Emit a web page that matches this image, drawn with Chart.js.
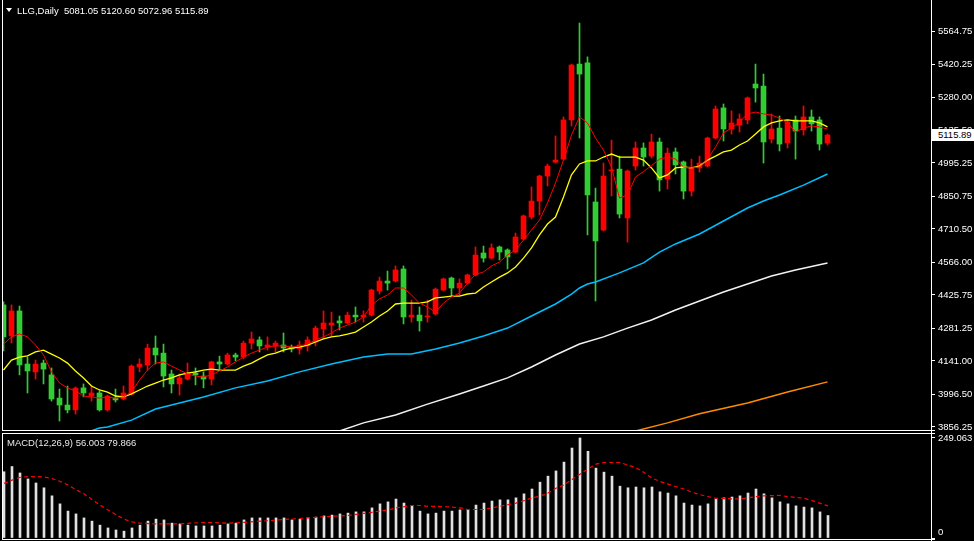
<!DOCTYPE html>
<html>
<head>
<meta charset="utf-8">
<title>LLG,Daily</title>
<script src="https://cdn.jsdelivr.net/npm/chart.js@4.4.1/dist/chart.umd.min.js"></script>
<style>
  html, body { margin:0; padding:0; background:#000; }
  body { width:974px; height:541px; position:relative; overflow:hidden;
         font-family:'Liberation Sans',Arial,sans-serif; }
  canvas { position:absolute; left:0; display:block; }
  #cMain { top:0; }
  #cMacd { top:433px; }
  .ln { position:absolute; background:#fff; }
  .txt { position:absolute; color:#fff; font-size:9.5px; line-height:11px; white-space:pre; }
  #tri { position:absolute; left:6px; top:8px; width:0; height:0;
         border-left:3px solid transparent; border-right:3px solid transparent; border-top:4px solid #fff; }
  #plabel { position:absolute; left:932px; top:129px; width:42px; height:12px; background:#fff; color:#000;
            font-size:9.5px; line-height:12px; padding-left:6px; box-sizing:border-box; white-space:pre; }
</style>
</head>
<body>
<canvas id="cMain" width="974" height="433"></canvas>
<canvas id="cMacd" width="974" height="108"></canvas>

<div class="ln" style="left:2px;top:0;width:1px;height:431px"></div>
<div class="ln" style="left:2px;top:433px;width:1px;height:107px"></div>
<div class="ln" style="left:931px;top:0;width:1px;height:541px"></div>
<div class="ln" style="left:2px;top:430px;width:933px;height:1px"></div>
<div class="ln" style="left:2px;top:433px;width:933px;height:1px"></div>
<div class="ln" style="left:2px;top:539px;width:933px;height:1px"></div>

<div id="tri"></div>
<div class="txt" id="hdr" style="left:17px;top:5px"></div>
<div class="txt" id="mhdr" style="left:7px;top:437px;color:#e8e8e8"></div>
<div id="plabel"></div>

<script>
// ---------------- DATA ----------------
const symbol = "LLG,Daily";
const macdTitle = "MACD(12,26,9)";

const open = [4383,4249,4357,4128,4094,4132,4081,3981,3951,3930,
  4025,3990,4003,3930,3981,3977,3998,4115,4124,4197,
  4175,4085,4042,4063,4089,4076,4063,4137,4128,4167,
  4158,4218,4232,4201,4206,4210,4201,4193,4206,4223,
  4279,4296,4314,4305,4339,4331,4339,4443,4486,4486,
  4538,4331,4339,4331,4344,4447,4499,4456,4477,4512,
  4607,4585,4633,4620,4611,4667,4762,4831,4939,4999,
  5012,5181,5422,5427,4827,4706,4961,4969,4758,4982,
  5060,5025,5086,4926,5043,5000,4874,4974,4982,5103,
  5233,5142,5159,5181,5336,5327,5099,5146,5082,5181,
  5138,5194,5181,5081.05];

const high = [4396,4383,4378,4158,4145,4145,4111,4020,4033,4029,
  4042,4033,4012,3994,4020,4033,4124,4150,4214,4249,
  4214,4102,4085,4132,4111,4094,4140,4162,4175,4175,
  4227,4266,4245,4245,4227,4262,4210,4227,4245,4292,
  4357,4352,4335,4352,4374,4357,4451,4503,4529,4551,
  4551,4404,4374,4404,4456,4499,4503,4495,4516,4633,
  4637,4646,4637,4625,4693,4771,4892,4943,4991,5112,
  5194,5422,5599,5453,4887,4995,5094,5025,4965,5086,
  5082,5120,5103,5060,5060,5004,5012,5025,5107,5241,
  5250,5220,5207,5280,5422,5379,5207,5198,5181,5198,
  5241,5224,5194,5120.60];

const low = [4184,4219,4081,4003,4063,4042,3968,3882,3917,3912,
  3986,3968,3925,3925,3964,3973,3994,4094,4102,4128,
  4029,4003,3994,4059,4038,4025,4038,4106,4124,4141,
  4150,4193,4180,4188,4180,4180,4180,4171,4184,4206,
  4240,4249,4275,4301,4309,4309,4335,4430,4447,4482,
  4301,4309,4270,4309,4339,4443,4421,4426,4473,4508,
  4568,4581,4577,4538,4607,4663,4754,4771,4896,4995,
  5008,5155,5103,4685,4400,4702,4853,4758,4654,4965,
  4982,5017,4874,4883,4948,4840,4853,4956,4978,5099,
  5090,5120,5129,5164,5258,4995,5082,5047,5060,5012,
  5116,5133,5051,5072.96];

const close = [4245,4357,4124,4098,4128,4106,3977,3951,3930,4024,
  4003,4003,3930,3990,3973,4003,4119,4128,4197,4167,
  4076,4042,4068,4085,4081,4063,4137,4128,4167,4158,
  4218,4236,4206,4210,4218,4197,4193,4210,4232,4283,
  4305,4305,4305,4339,4331,4339,4447,4486,4477,4534,
  4331,4339,4314,4335,4451,4495,4456,4477,4512,4598,
  4585,4629,4611,4590,4676,4767,4831,4939,4982,5008,
  5181,5418,5379,4857,4659,4939,4965,4775,4961,5060,
  5021,5086,4922,5038,4987,4874,4978,4995,5103,5228,
  5142,5168,5185,5276,5319,5086,5142,5077,5172,5133,
  5194,5164,5077,5115.89];

// moving averages
const maRed = [4214,4245,4258,4245,4210,4167,4094,4046,4025,4012,
  3990,3986,3981,3986,3981,3986,4007,4059,4102,4132,
  4137,4119,4102,4085,4076,4072,4081,4098,4115,4137,
  4158,4175,4188,4201,4206,4206,4201,4206,4214,4232,
  4245,4262,4283,4296,4309,4331,4382,4409,4426,4456,
  4456,4426,4391,4374,4352,4391,4417,4434,4477,4515,
  4525,4551,4568,4598,4620,4663,4706,4749,4823,4909,
  5008,5116,5194,5168,5103,5051,4978,4844,4857,4935,
  4958,4984,5012,5021,5012,4978,4974,4978,5012,5064,
  5125,5146,5172,5207,5215,5207,5202,5189,5168,5129,
  5146,5155,5151,5142];

const maYellow = [4102,4145,4158,4163,4180,4188,4171,4154,4132,4098,
  4068,4033,4016,4007,3990,3986,3999,4016,4033,4046,
  4059,4068,4081,4089,4094,4102,4106,4102,4102,4102,
  4119,4132,4150,4167,4175,4188,4197,4201,4210,4223,
  4236,4245,4249,4257,4266,4288,4309,4335,4357,4387,
  4391,4391,4391,4396,4413,4417,4421,4421,4430,4434,
  4460,4482,4503,4521,4547,4585,4629,4685,4732,4762,
  4849,4944,4991,5004,5004,5021,5034,5021,5021,5021,
  5008,4974,4931,4944,4974,4978,4974,4982,5008,5025,
  5043,5051,5073,5090,5120,5151,5168,5177,5181,5177,
  5177,5177,5168,5151];

const maBlueIdx = [11,12,13,16,19,21,25,29,33,37,41,45,48,51,54,57,60,63,66,69,71,72,73,74,77,80,82,84,87,90,93,95,97,100,103];
const maBlueVal = [3840,3852,3856,3886,3934,3951,3986,4025,4055,4094,4128,4158,4171,4171,4193,4219,4249,4283,4335,4387,4430,4456,4473,4482,4521,4564,4611,4646,4689,4745,4801,4831,4857,4900,4948];

const maWhiteIdx = [42,45,49,53,57,60,63,66,69,72,75,78,81,84,87,90,93,96,99,103];
const maWhiteVal = [3839,3874,3908,3955,3999,4033,4068,4115,4167,4214,4245,4283,4318,4361,4400,4439,4473,4508,4534,4564];

const maOrangeIdx = [79,83,87,93,98,103];
const maOrangeVal = [3839,3874,3913,3960,4007,4051];

// MACD main (histogram) and signal
const macdMain = [165,178,162,147,137,125,105,85,67,60,
  50,42,32,25,20,17,25,32,42,47,
  45,37,35,32,30,30,30,32,35,37,
  45,50,50,50,50,50,45,47,50,52,
  55,57,60,62,65,65,75,85,90,97,
  87,80,67,60,62,67,67,70,70,82,
  87,92,95,95,100,110,122,139,154,167,
  189,224,249.063,216,174,164,154,129,125,127,
  125,127,115,112,105,87,82,80,85,97,
  100,102,105,112,122,110,100,90,85,80,
  77,75,65,56.003];

const signalIdx = [0,1,2,3,4,5,6,7,8,9,10,11,12,13,14,15,16,17,19,22,25,28,30,33,35,38,40,43,46,48,49,51,
  52,53,54,56,57,58,60,61,62,63,64,65,66,67,68,69,70,71,72,73,74,75,77,79,80,81,82,83,85,86,87,88,89,92,94,95,97,98,100,101,103];
const signalVal = [136,144,151,153,153,152,148,141,132,120,110,96,82,70,58,47,40,37,35,35,39,37,39,43,46,50,53,56,64,70,75,81,
  81,79,79,77,75,71,71,75,79,83,87,93,100,104,112,124,132,146,159,172,184,188,188,175,163,149,141,134,122,114,108,103,99,97,103,105,106,103,99,93,79.866];

// axis tick labels
const priceTicks = [5564.75,5420.25,5280.00,5135.50,4995.25,4850.75,4710.50,4566.00,4425.75,4281.25,4141.00,3996.50,3856.25];
const macdTicks = [249.063, 0];

// ---------------- RENDER ----------------
const FONT = "'Liberation Sans',Arial,sans-serif";
const UP = '#ff0000', DOWN = '#32cd32';
const candleColors = close.map((c, i) => c >= open[i] ? UP : DOWN);
const lastIdx = close.length - 1;

document.getElementById('hdr').textContent =
  symbol + '  ' + [open[lastIdx], high[lastIdx], low[lastIdx], close[lastIdx]].map(v => v.toFixed(2)).join(' ');
document.getElementById('mhdr').textContent =
  macdTitle + ' ' + macdMain[lastIdx].toFixed(3) + ' ' + signalVal[signalVal.length - 1].toFixed(3);

function xScale(min) {
  return { type:'linear', display:false, min:min, max:min + 116, offset:false, grid:{display:false} };
}
function yAxis(min, max, ticks, fmt) {
  return {
    type:'linear', position:'right', min:min, max:max,
    afterBuildTicks: s => { s.ticks = ticks.map(v => ({ value:v })); },
    afterFit: s => { s.width = 43; s.paddingTop = 0; s.paddingBottom = 0; },
    grid: { display:true, drawOnChartArea:false, drawTicks:true, tickLength:4, color:'#ffffff' },
    border: { display:false },
    ticks: { color:'#ffffff', padding:3, autoSkip:false, font:{ family:FONT, size:9.5 }, callback: fmt }
  };
}
const common = {
  responsive:false, animation:false, events:[],
  plugins:{ legend:{display:false}, tooltip:{enabled:false} },
  datasets:{ bar:{ grouped:false, borderWidth:0 } }
};

const lineDS = (data, color, width, order) => ({
  type:'line', data, borderColor:color, borderWidth:width, pointRadius:0, tension:0, fill:false, order
});

const mainChart = new Chart(document.getElementById('cMain'), {
  type:'bar',
  data:{ datasets:[
    { data: low.map((l, i) => ({ x:i, y:[l, high[i]] })), backgroundColor:candleColors, barThickness:1, order:5 },
    { data: open.map((o, i) => ({ x:i, y:[o, close[i]] })), backgroundColor:candleColors, barThickness:5, minBarLength:1, order:4 },
    lineDS(maOrangeIdx.map((k, i) => ({ x:k, y:maOrangeVal[i] })), '#ff8c00', 1.5, 3),
    lineDS(maWhiteIdx.map((k, i) => ({ x:k, y:maWhiteVal[i] })), '#f2f2f2', 1.5, 3),
    lineDS(maBlueIdx.map((k, i) => ({ x:k, y:maBlueVal[i] })), '#00bfff', 1.5, 3),
    lineDS(maYellow.map((v, i) => ({ x:i, y:v })), '#ffff00', 1.3, 2),
    lineDS(maRed.map((v, i) => ({ x:i, y:v })), '#ff0000', 1, 1)
  ]},
  options:Object.assign({}, common, {
    layout:{ padding:{ left:3, top:0, right:0, bottom:3 } },
    scales:{
      x: xScale(-0.0625),
      y: yAxis(3843.3, 5698.5, priceTicks, v => Number(v).toFixed(2))
    }
  })
});

const macdChart = new Chart(document.getElementById('cMacd'), {
  type:'bar',
  data:{ datasets:[
    { data: macdMain.map((v, i) => ({ x:i, y:v })), backgroundColor:'#e0e0e0', barThickness:2, order:2 },
    Object.assign(lineDS(signalIdx.map((k, i) => ({ x:k, y:signalVal[i] })), '#ff0000', 1.2, 1), { borderDash:[4,3] })
  ]},
  options:Object.assign({}, common, {
    layout:{ padding:{ left:3, top:1, right:0, bottom:2 } },
    scales:{
      x: xScale(-0.125),
      y: yAxis(-2.49, 259.0, macdTicks, v => (v === 0 ? ['0', ''] : Number(v).toFixed(3)))
    }
  })
});

// current price label, placed through the price scale
const pl = document.getElementById('plabel');
pl.textContent = close[lastIdx].toFixed(2);
pl.style.top = (Math.round(mainChart.scales.y.getPixelForValue(close[lastIdx])) - 6) + 'px';
</script>
</body>
</html>
